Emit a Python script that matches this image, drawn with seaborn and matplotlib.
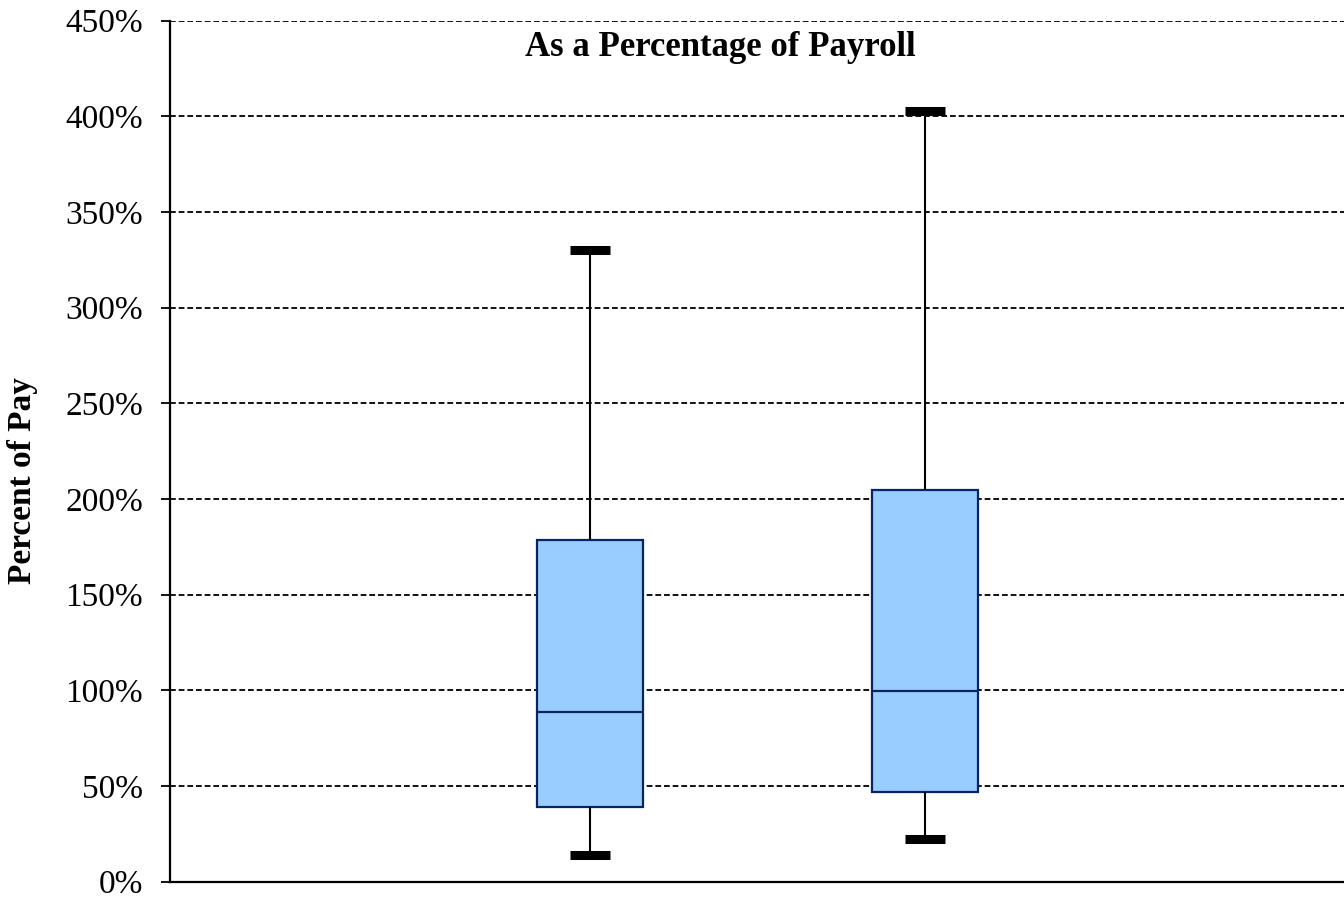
import matplotlib
matplotlib.use("Agg")
import matplotlib.pyplot as plt
import numpy as np
import pandas as pd
import seaborn as sns

# Five-number summaries (percent of payroll)
groups = ["Group 1", "Group 2"]
whisker_low = [14.1, 22.0]
q1 = [38.9, 46.6]
median = [88.4, 99.6]
q3 = [178.3, 204.8]
whisker_high = [329.9, 402.8]

y_ticks = [0, 50, 100, 150, 200, 250, 300, 350, 400, 450]
y_tick_labels = ["0%", "50%", "100%", "150%", "200%", "250%", "300%", "350%", "400%", "450%"]

title_text = "As a Percentage of Payroll"
y_label = "Percent of Pay"

# long table: each group is its own 5-number summary, so quartiles come out exact
rows = []
for i, g in enumerate(groups):
    for v in (whisker_low[i], q1[i], median[i], q3[i], whisker_high[i]):
        rows.append({"group": g, "value": v})
df = pd.DataFrame(rows)

sns.set_style("white")
plt.rcParams["font.family"] = ["Liberation Serif", "DejaVu Serif"]
plt.rcParams["text.color"] = "black"
plt.rcParams["ytick.color"] = "black"
plt.rcParams["ytick.labelcolor"] = "black"

fig = plt.figure(figsize=(13.44, 8.98), dpi=100)
ax = fig.add_axes([170 / 1344, 1 - 881.5 / 898, 1 - 170 / 1344, (881.5 - 20.7) / 898])

navy = "#0A2361"
sns.boxplot(
    data=df, x="group", y="value", ax=ax,
    whis=(0, 100), width=0.316, saturation=1, color="#99CCFF",
    linecolor=navy, linewidth=1.5,
    boxprops={"edgecolor": navy, "linewidth": 1.6},
    medianprops={"color": navy, "linewidth": 1.6},
    whiskerprops={"color": "black", "linewidth": 1.5},
    capprops={"color": "black", "linewidth": 6.5, "solid_capstyle": "butt"},
    capwidths=0.12,
    showfliers=False,
)

ax.set_xlim(-1.254, 2.251)
ax.set_ylim(0, 450)
ax.set_yticks(y_ticks)
ax.set_yticklabels(y_tick_labels, fontsize=24, color="black")
ax.set_xticks([])
ax.set_xlabel("")
ax.set_ylabel("")

ax.yaxis.grid(True, color="black", linestyle=(0, (3.2, 1.6)), linewidth=1.3)
ax.set_axisbelow(True)

for side in ("top", "right"):
    ax.spines[side].set_visible(False)
for side in ("left", "bottom"):
    ax.spines[side].set_color("black")
    ax.spines[side].set_linewidth(1.6)

ax.tick_params(axis="y", direction="out", length=6.5, width=1.3, color="black",
               pad=13, left=True)

fig.text(720 / 1344, 1 - 47 / 898, title_text, ha="center", va="center",
         fontsize=25, fontweight="bold", color="black")
fig.text(23 / 1344, 1 - 481 / 898, y_label, ha="center", va="center",
         rotation=90, fontsize=24, fontweight="bold", color="black")

plt.savefig("out.png", dpi=100)
plt.close()
